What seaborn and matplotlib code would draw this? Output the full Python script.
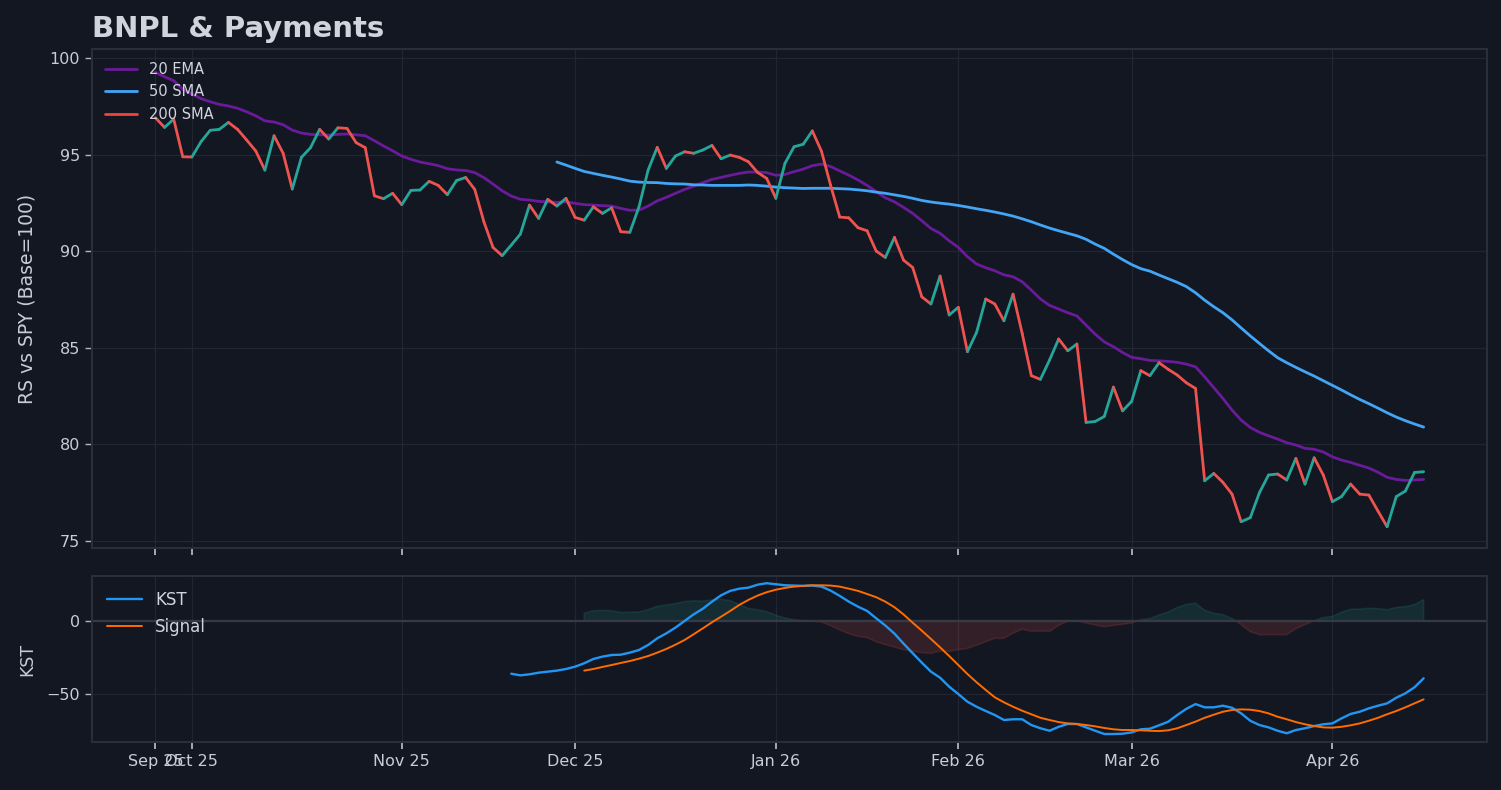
import numpy as np
import pandas as pd
import matplotlib
matplotlib.use("Agg")
import matplotlib.pyplot as plt
import seaborn as sns

# ---------------- data ----------------
start_date = "2025-09-25"
end_date = "2026-04-16"
market_holidays = ["2025-11-27", "2025-12-25", "2026-01-01", "2026-01-19",
                   "2026-02-16", "2026-04-03"]

rs = [96.91, 96.41, 96.84, 94.89, 94.88, 95.67, 96.26, 96.31, 96.67, 96.31,
      95.76, 95.19, 94.20, 95.98, 95.07, 93.22, 94.86, 95.36, 96.31, 95.81,
      96.39, 96.36, 95.62, 95.36, 92.87, 92.72, 93.00, 92.41, 93.15, 93.17,
      93.62, 93.41, 92.93, 93.66, 93.82, 93.20, 91.53, 90.20, 89.77, 90.32,
      90.89, 92.39, 91.70, 92.69, 92.34, 92.74, 91.75, 91.61, 92.30, 91.96,
      92.25, 91.01, 90.98, 92.30, 94.20, 95.38, 94.29, 94.93, 95.15, 95.07,
      95.24, 95.48, 94.79, 94.98, 94.86, 94.63, 94.08, 93.77, 92.74, 94.55,
      95.41, 95.54, 96.23, 95.18, 93.42, 91.77, 91.73, 91.22, 91.06, 90.01,
      89.68, 90.72, 89.54, 89.16, 87.64, 87.27, 88.72, 86.70, 87.10, 84.80,
      85.80, 87.53, 87.27, 86.40, 87.78, 85.75, 83.56, 83.37, 84.37, 85.46,
      84.85, 85.20, 81.14, 81.19, 81.45, 82.97, 81.74, 82.23, 83.82, 83.56,
      84.23, 83.89, 83.59, 83.19, 82.90, 78.12, 78.50, 78.04, 77.43, 76.00,
      76.21, 77.50, 78.42, 78.47, 78.16, 79.28, 77.95, 79.31, 78.42, 77.04,
      77.30, 77.95, 77.43, 77.38, 76.55, 75.74, 77.30, 77.59, 78.55, 78.59]

ema20 = [99.26, 99.03, 98.83, 98.38, 98.14, 97.90, 97.74, 97.60, 97.52, 97.40,
         97.22, 97.01, 96.75, 96.69, 96.55, 96.27, 96.12, 96.05, 96.03, 96.01,
         96.05, 96.07, 96.03, 95.98, 95.72, 95.45, 95.20, 94.93, 94.76, 94.62,
         94.53, 94.43, 94.27, 94.21, 94.18, 94.07, 93.81, 93.48, 93.13, 92.86,
         92.69, 92.65, 92.58, 92.56, 92.53, 92.56, 92.48, 92.41, 92.39, 92.36,
         92.34, 92.22, 92.12, 92.13, 92.34, 92.61, 92.79, 93.00, 93.20, 93.37,
         93.55, 93.72, 93.82, 93.93, 94.03, 94.10, 94.10, 94.07, 93.93, 93.98,
         94.12, 94.25, 94.43, 94.51, 94.39, 94.16, 93.94, 93.69, 93.41, 93.08,
         92.77, 92.56, 92.27, 91.96, 91.58, 91.18, 90.93, 90.54, 90.20, 89.72,
         89.34, 89.15, 88.99, 88.78, 88.68, 88.42, 87.99, 87.53, 87.20, 87.01,
         86.82, 86.65, 86.18, 85.71, 85.31, 85.06, 84.76, 84.51, 84.44, 84.35,
         84.33, 84.30, 84.25, 84.16, 84.02, 83.50, 82.94, 82.38, 81.78, 81.26,
         80.88, 80.63, 80.45, 80.28, 80.09, 79.97, 79.80, 79.75, 79.61, 79.36,
         79.19, 79.07, 78.92, 78.78, 78.56, 78.30, 78.19, 78.14, 78.16, 78.19]

sma50 = [np.nan] * 44 + [
    94.62, 94.46, 94.29, 94.13, 94.03, 93.93, 93.84, 93.74, 93.63, 93.58,
    93.56, 93.55, 93.51, 93.49, 93.48, 93.44, 93.43, 93.41, 93.41, 93.41,
    93.41, 93.43, 93.41, 93.37, 93.32, 93.29, 93.27, 93.25, 93.26, 93.26,
    93.26, 93.24, 93.22, 93.18, 93.13, 93.06, 93.00, 92.92, 92.84, 92.74,
    92.63, 92.55, 92.49, 92.44, 92.37, 92.29, 92.20, 92.12, 92.03, 91.93,
    91.82, 91.68, 91.53, 91.36, 91.20, 91.06, 90.93, 90.80, 90.62, 90.37,
    90.15, 89.85, 89.57, 89.31, 89.10, 88.97, 88.77, 88.58, 88.39, 88.17,
    87.85, 87.47, 87.13, 86.82, 86.45, 86.03, 85.62, 85.23, 84.85, 84.49,
    84.23, 83.99, 83.76, 83.54, 83.30, 83.06, 82.82, 82.57, 82.33, 82.11,
    81.88, 81.64, 81.42, 81.23, 81.06, 80.90]

kst = [np.nan] * 39 + [
    -36.0, -37.1, -36.4, -35.3, -34.6, -33.9, -32.8, -31.2, -28.9, -26.0,
    -24.4, -23.3, -23.1, -21.7, -19.9, -16.5, -12.0, -8.6, -4.7, -0.2,
    4.3, 8.1, 12.9, 17.2, 20.2, 21.7, 22.4, 24.4, 25.4, 24.7,
    24.0, 23.8, 23.6, 23.8, 23.1, 20.4, 16.8, 12.9, 9.5, 6.6,
    1.6, -3.3, -8.8, -15.6, -22.1, -28.5, -34.6, -38.7, -44.8, -49.8,
    -55.0, -58.4, -61.3, -64.0, -67.4, -66.9, -66.9, -70.8, -73.0, -74.7,
    -72.0, -70.1, -70.1, -72.4, -74.7, -76.9, -76.9, -76.7, -75.8, -73.7,
    -73.3, -71.0, -68.6, -64.0, -59.8, -56.6, -58.8, -58.8, -57.7, -59.1,
    -62.9, -67.9, -70.8, -72.4, -74.7, -76.4, -74.2, -73.0, -71.5, -70.3,
    -69.7, -66.3, -63.3, -61.8, -59.5, -57.7, -56.1, -52.3, -49.3, -45.2,
    -39.1]

signal = [np.nan] * 47 + [
    -33.9, -32.8, -31.4, -30.1, -28.7, -27.4, -25.8, -24.0, -21.7, -19.2,
    -16.3, -13.1, -9.2, -5.2, -1.1, 2.7, 6.6, 10.7, 14.1, 17.0,
    19.3, 21.0, 22.2, 23.1, 23.6, 24.0, 24.0, 23.8, 23.1, 21.7,
    20.2, 18.1, 15.9, 12.9, 9.1, 4.2, -1.4, -6.8, -12.4, -18.1,
    -24.0, -30.1, -36.2, -41.8, -47.0, -52.0, -55.4, -58.4, -61.1, -63.5,
    -65.9, -67.4, -68.8, -69.7, -70.1, -70.8, -71.7, -72.8, -73.7, -74.2,
    -74.2, -74.4, -74.7, -74.9, -74.4, -73.0, -70.8, -68.5, -65.9, -63.8,
    -61.8, -60.6, -60.2, -60.4, -61.3, -62.9, -65.2, -66.9, -68.8, -70.3,
    -71.5, -72.4, -72.6, -72.0, -71.0, -69.7, -67.9, -65.9, -63.5, -61.3,
    -58.8, -56.1, -53.4]

# ---------------- style ----------------
BG = "#131722"
TXT = "#c9ccd5"
SPINE = "#2a2e39"
sns.set_theme(style="dark", rc={
    "figure.facecolor": BG, "axes.facecolor": BG, "axes.edgecolor": SPINE,
    "axes.linewidth": 1.5, "grid.color": "#222632", "grid.linewidth": 0.9,
    "xtick.color": "#b2b5be", "ytick.color": "#b2b5be",
    "xtick.bottom": True, "ytick.left": True,
    "xtick.major.size": 5, "ytick.major.size": 5,
    "xtick.major.width": 1.3, "ytick.major.width": 1.0,
    "text.color": TXT, "axes.labelcolor": TXT,
})
plt.rcParams["font.family"] = ["DejaVu Sans"]

dates = pd.bdate_range(start_date, end_date)
dates = dates[~dates.isin(pd.to_datetime(market_holidays))]
n = len(dates)
idx = np.arange(n)
rs_a = np.array(rs[:n], dtype=float)
kst_a = np.array(kst[:n], dtype=float)
sig_a = np.array(signal[:n], dtype=float)
hist = kst_a - sig_a

month_key = dates.to_period("M")
tick_pos = [i for i in range(n) if i == 0 or month_key[i] != month_key[i - 1]]
tick_lab = [dates[i].strftime("%b %y") for i in tick_pos]

fig = plt.figure(figsize=(15.01, 7.90), dpi=100)
ax1 = fig.add_axes([0.0613, 0.3063, 0.9294, 0.6317])
ax2 = fig.add_axes([0.0613, 0.0608, 0.9294, 0.2101], sharex=ax1)

# ---- top panel ----
sns.lineplot(x=idx, y=ema20[:n], ax=ax1, color="#6a1b9a", lw=2.0, label="20 EMA", zorder=3)
sns.lineplot(x=idx, y=sma50[:n], ax=ax1, color="#42a5f5", lw=2.0, label="50 SMA", zorder=3)
ax1.plot([], [], color="#f44336", lw=2.0, label="200 SMA")
for i in range(n - 1):
    col = "#26a69a" if rs_a[i + 1] >= rs_a[i] else "#ef5350"
    ax1.plot(idx[i:i + 2], rs_a[i:i + 2], color=col, lw=2.0, zorder=4,
             solid_capstyle="round")

ax1.set_ylim(74.64, 100.47)
ax1.set_yticks([75, 80, 85, 90, 95, 100])
ax1.set_ylabel("RS vs SPY (Base=100)", fontsize=13.5)
ax1.yaxis.set_label_coords(-0.040, 0.5)
ax1.grid(True)
ax1.tick_params(labelbottom=False, labelsize=11.5, labelcolor=TXT)
ax1.legend(loc="upper left", frameon=False, fontsize=10.5,
           handlelength=2.2, labelcolor="#d1d4dc")

# ---- bottom panel ----
ax2.fill_between(idx, 0, hist, where=hist >= 0, interpolate=True,
                 color="#26a69a", alpha=0.15, lw=1.2)
ax2.fill_between(idx, 0, hist, where=hist < 0, interpolate=True,
                 color="#ef5350", alpha=0.15, lw=1.2)
ax2.axhline(0, color="#363a45", lw=1.6, zorder=2)
sns.lineplot(x=idx, y=kst_a, ax=ax2, color="#2196f3", lw=1.7, label="KST", zorder=3)
sns.lineplot(x=idx, y=sig_a, ax=ax2, color="#ff6d00", lw=1.4, label="Signal", zorder=4)
ax2.set_ylim(-82.3, 30.3)
ax2.set_yticks([-50, 0])
ax2.set_ylabel("KST", fontsize=12.5)
ax2.yaxis.set_label_coords(-0.040, 0.5)
ax2.grid(True)
ax2.tick_params(labelsize=11.5, labelcolor=TXT)
ax2.legend(loc="upper left", frameon=False, fontsize=12, handlelength=2.1,
           labelspacing=0.55, labelcolor="#d1d4dc")

ax2.set_xticks(tick_pos)
ax2.set_xticklabels(tick_lab)
ax2.set_xlim(-6.95, n - 1 + 6.95)
ax2.set_xlabel("")
ax1.set_xlabel("")

for ax in (ax1, ax2):
    for s in ax.spines.values():
        s.set_color(SPINE)
        s.set_linewidth(1.5)

fig.text(0.0613, 0.9535, "BNPL & Payments", fontsize=21, fontweight="bold",
         color="#d1d4dc", va="baseline", ha="left")

fig.savefig("out.png", dpi=100, facecolor=BG)
